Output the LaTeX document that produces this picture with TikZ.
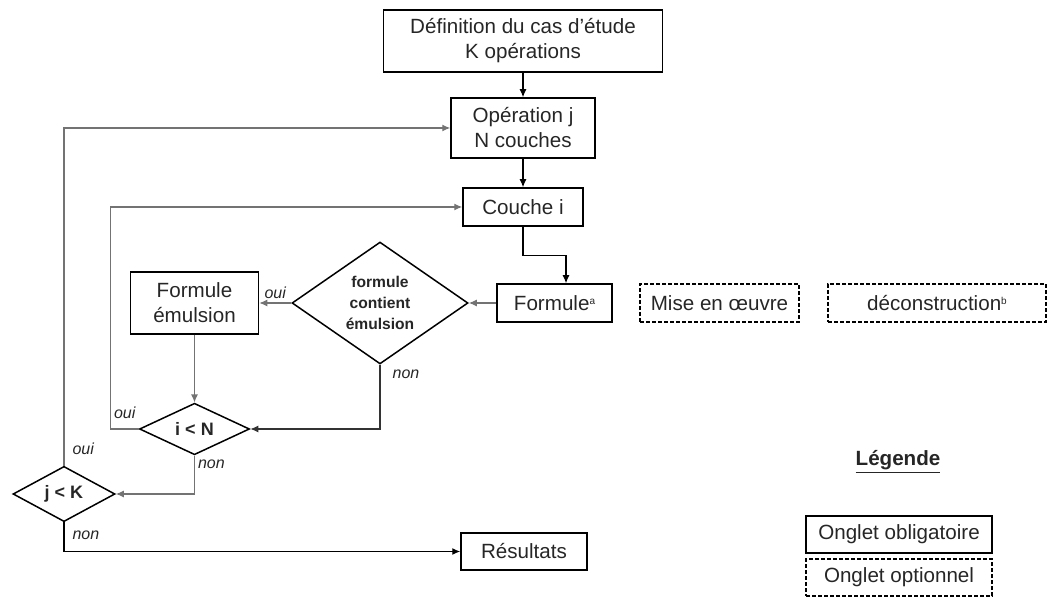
\documentclass[tikz,border=0pt]{standalone}
\usepackage{fontspec}
\setmainfont{Liberation Sans}
\usetikzlibrary{shapes.geometric,arrows.meta}
\newcommand{\appel}[1]{\raisebox{3pt}{\fontsize{5}{5}\selectfont #1}}

\begin{document}
\begin{tikzpicture}[x=0.5pt, y=-0.5pt,
      every node/.style={font=\fontsize{10.3}{12.5}\selectfont, align=center, inner sep=0pt, text=black!85},
      onglet/.style={draw=black, line width=0.75pt},
      optionnel/.style={onglet, dash pattern=on 2pt off 1pt},
      test/.style={draw=black, diamond, line width=0.75pt, font=\fontsize{7.8}{10.5}\selectfont\bfseries},
      lien/.style={line width=0.6pt, -{Latex[length=4pt,width=3.5pt]}},
      boucle/.style={lien, draw=black!55},
      rep/.style={font=\fontsize{8}{9}\selectfont\itshape}]
    \useasboundingbox (0,0) rectangle (1047,597);

    % onglets
    \node[onglet, minimum width=139.5pt, minimum height=31pt] (defin) at (523,41) {Définition du cas d'étude\\K opérations};
    \node[onglet, minimum width=72pt, minimum height=30pt] (oper) at (523,128) {Opération j\\N couches};
    \node[onglet, minimum width=60pt, minimum height=19pt] (couche) at (523,207) {Couche i};
    \node[onglet, minimum width=57.5pt, minimum height=19pt] (formule) at (554.5,303) {Formule\appel{a}};
    \node[optionnel, minimum width=79.5pt, minimum height=19pt] (mise) at (719.5,303) {Mise en œuvre};
    \node[optionnel, minimum width=109pt, minimum height=19pt] (decons) at (937,303) {déconstruction\appel{b}};
    \node[onglet, minimum width=64pt, minimum height=31pt] (emuls) at (194.5,303) {Formule\\émulsion};
    \node[onglet, minimum width=63pt, minimum height=18.5pt] (result) at (524,551.5) {Résultats};

    % tests
    \node[test, minimum width=88pt, minimum height=54.5pt] (fce) at (380,303) {formule\\contient\\émulsion};
    \node[test, minimum width=55pt, minimum height=20.5pt, font=\fontsize{9}{10}\selectfont\bfseries] (iN) at (194.5,429) {i < N};
    \node[test, minimum width=51pt, minimum height=24.5pt, font=\fontsize{9}{10}\selectfont\bfseries] (jK) at (64,494) {j < K};

    % liens
    \draw[lien] (defin) -- (oper);
    \draw[lien] (oper) -- (couche);
    \draw[lien] (couche.south) -- ++(0,29) -| ([xshift=5.75pt]formule.north);
    \draw[boucle] (formule) -- (fce);
    \draw[boucle] (fce) -- node[rep, above, yshift=2pt] {oui} (emuls);
    \draw[lien, draw=black!80] (fce.south) node[rep, anchor=north west, xshift=6pt, yshift=-2.5pt] {non} |- (iN.east);
    \draw[boucle] (emuls) -- (iN);
    \draw[boucle] (iN.west) -- node[rep, above, yshift=5pt] {oui} ++(-28,0) |- (couche.west);
    \draw[boucle] (iN.south) node[rep, anchor=north west, xshift=1.5pt, yshift=-2pt] {non} |- (jK.east);
    \draw[boucle] (jK.north) node[rep, anchor=south west, xshift=4pt, yshift=5pt] {oui} |- (oper.west);
    \draw[lien] (jK.south) node[rep, anchor=north west, xshift=4pt, yshift=-4pt] {non} |- (result.west);

    % legende
    \node[font=\fontsize{10.3}{12.5}\selectfont\bfseries] (legende) at (898,462) {\underline{Légende}};
    \node[onglet, minimum width=93pt, minimum height=18.5pt] (oblig) at (899,534.5) {Onglet obligatoire};
    \node[optionnel, minimum width=93pt, minimum height=18.5pt] (option) at (899,577.5) {Onglet optionnel};
  \end{tikzpicture}
\end{document}
